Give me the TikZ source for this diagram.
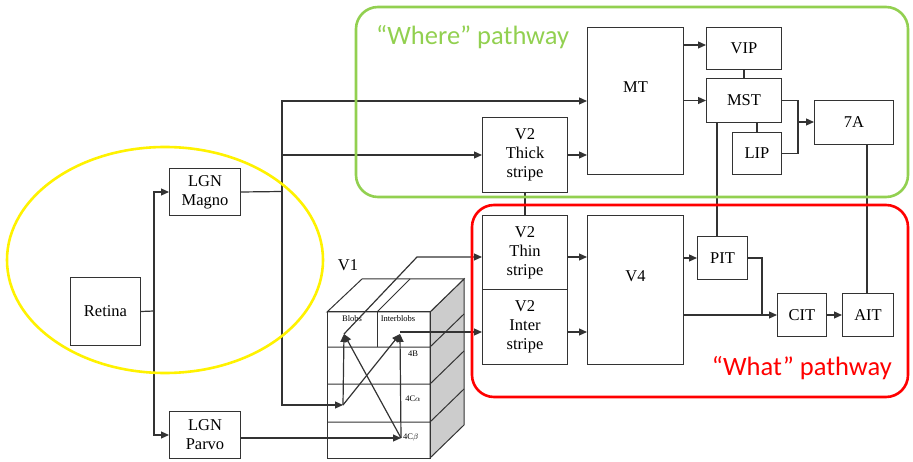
\documentclass[tikz,border=0pt]{standalone}
\usepackage{fontspec}
\setmainfont{Liberation Serif}
\newfontfamily\calib{Carlito}
\usetikzlibrary{arrows.meta}
\definecolor{wgreen}{HTML}{92D050}
\definecolor{wred}{HTML}{FF0000}
\definecolor{wyellow}{HTML}{FFF200}
\begin{document}
\begin{tikzpicture}[x=1pt,y=-1pt,
 box/.style={draw=black!80, line width=1pt, fill=white, inner sep=0pt, align=center, font=\fontsize{16.5}{19}\selectfont, anchor=north west},
 ln/.style={draw=black!80, line width=1.2pt},
 arr/.style={ln, -{Triangle[length=8pt,width=7pt]}},
 small/.style={font=\fontsize{8.5}{9}\selectfont, inner sep=0pt},
 frame/.style={line width=2.6pt, rounded corners=22pt},
 plabel/.style={font=\calib\fontsize{26.5}{29}\selectfont, inner sep=0pt}]
\useasboundingbox (0,0) rectangle (913,462);

% boxes
\node[box, minimum width=70pt, minimum height=68pt] (retina) at (70,277) {Retina};
\node[box, minimum width=71pt, minimum height=47pt] (magno) at (169,168) {LGN\\Magno};
\node[box, minimum width=71pt, minimum height=47pt] (parvo) at (169,411) {LGN\\Parvo};
\node[box, minimum width=85pt, minimum height=75pt] (thick) at (482,117) {V2\\Thick\\stripe};
\node[box, minimum width=85pt, minimum height=74pt] (thin) at (482,215) {V2\\Thin\\stripe};
\node[box, minimum width=85pt, minimum height=75pt] (inter) at (482,289) {V2\\Inter\\stripe};
\node[box, minimum width=96pt, minimum height=147pt] (mt) at (587,27) {MT\\[8pt]};
\node[box, minimum width=75pt, minimum height=42pt] (vip) at (706,27) {VIP};
\node[box, minimum width=75pt, minimum height=44pt] (mst) at (706,78) {MST};
\node[box, minimum width=49pt, minimum height=42pt] (lip) at (732,132) {LIP};
\node[box, minimum width=79pt, minimum height=44pt] (sevenA) at (814,100) {7A};
\node[box, minimum width=96pt, minimum height=149pt] (v4) at (587,215) {V4\\[8pt]};
\node[box, minimum width=50pt, minimum height=43pt] (pit) at (697,236) {PIT};
\node[box, minimum width=49pt, minimum height=43pt] (cit) at (777,293) {CIT};
\node[box, minimum width=51pt, minimum height=43pt] (ait) at (842,293) {AIT};

% V1 cube
\filldraw[draw=black!80, line width=1pt, fill=gray!40] (430,312) -- (464,279) -- (464,425) -- (430,458) -- cycle;
\filldraw[draw=black!80, line width=1pt, fill=white] (327,312) -- (362,279) -- (464,279) -- (430,312) -- cycle;
\draw[draw=black!80, line width=1pt] (327,312) rectangle (430,458);
\foreach \yy in {347,384,422} {
  \draw[draw=black!80, line width=1pt] (327,\yy) -- (430,\yy) -- (464,\yy-33);
}
\draw[draw=black!80, line width=1pt] (377,312) -- (410,279);
\draw[draw=black!80, line width=1pt] (377,312) -- (377,347);
\node[font=\fontsize{16.5}{19}\selectfont, inner sep=0pt] (v1) at (348,265) {V1};
\node[small] (blobs) at (352,319) {Blobs};
\node[small] (iblobs) at (398,319) {Interblobs};
\node[small] (l4b) at (413,354) {4B};
\node[small] (l4ca) at (413,399) {4C$\alpha$};
\node[small, anchor=west] (l4cb) at (403,437) {4C$\beta$};

% connectors
\coordinate (rj) at (154,311);
\draw[ln] (retina.east) -- (rj);
\draw[arr] (rj) |- (magno.west);
\draw[arr] (rj) |- (parvo.west);
\coordinate (mj) at (282,191.5);
\draw[ln] (magno.east) -- (mj);
\draw[arr] (mj) |- (mt.west);
\draw[arr] (mj |- thick.west) -- (thick.west);
\coordinate (c4a) at (343,405);
\draw[arr] (mj) |- (c4a);
\coordinate (c4b) at (401,438);
\draw[arr] (parvo.east |- c4b) -- (c4b);
\coordinate (bT) at (344,334);
\coordinate (iT) at (400,334);
\draw[arr] (c4a) -- (bT);
\draw[arr] (c4a) -- (iT);
\draw[arr] (c4b) -- (iT);
\draw[arr] (c4b) -- (bT);
\coordinate (kb) at (417,257);
\draw[arr] (bT) -- (kb) -- (thin.west |- kb);
\coordinate (io) at (400,332);
\draw[arr] (io) -- (inter.west |- io);
\draw[arr] (thin.east |- kb) -- (v4.west |- kb);
\draw[arr] (inter.east |- io) -- (v4.west |- io);
\draw[ln] (thick.south) -- (thin.north);
\draw[arr] (thick.east) -- (mt.west |- thick.east);
\coordinate (vy) at (0,45);
\draw[arr] (mt.east |- vy) -- (vip.west |- vy);
\draw[arr] (mt.east |- mst.west) -- (mst.west);
\draw[ln] (vip.south) -- (vip.south |- mst.north);
\draw[ln] (lip.north) -- (lip.north |- mst.south);
\coordinate (sj) at (798,122);
\draw[ln] (mst.east) -| (sj);
\draw[ln] (lip.east) -| (sj);
\draw[arr] (sj) -- (sevenA.west |- sj);
\coordinate (mx) at (717,0);
\draw[ln] (mst.south -| mx) -- (pit.north -| mx);
\coordinate (ax) at (867,0);
\draw[ln] (sevenA.south -| ax) -- (ait.north -| ax);
\draw[arr] (v4.east |- pit.west) -- (pit.west);
\draw[arr] (v4.east |- cit.west) -- (cit.west);
\coordinate (pj) at (762,314.5);
\draw[ln] (pit.east) -| (pj);
\draw[arr] (cit.east) -- (ait.west);

% pathway frames
\draw[wyellow, line width=2.6pt] (165,260) ellipse [x radius=158, y radius=113];
\draw[wgreen, frame] (356,7) rectangle (908,197);
\draw[wred, frame] (472,205) rectangle (908,397);
\node[plabel, text=wgreen, anchor=base west] (where) at (376,45) {“Where” pathway};
\node[plabel, text=wred, anchor=base east] (what) at (892,375) {“What” pathway};
\end{tikzpicture}
\end{document}
